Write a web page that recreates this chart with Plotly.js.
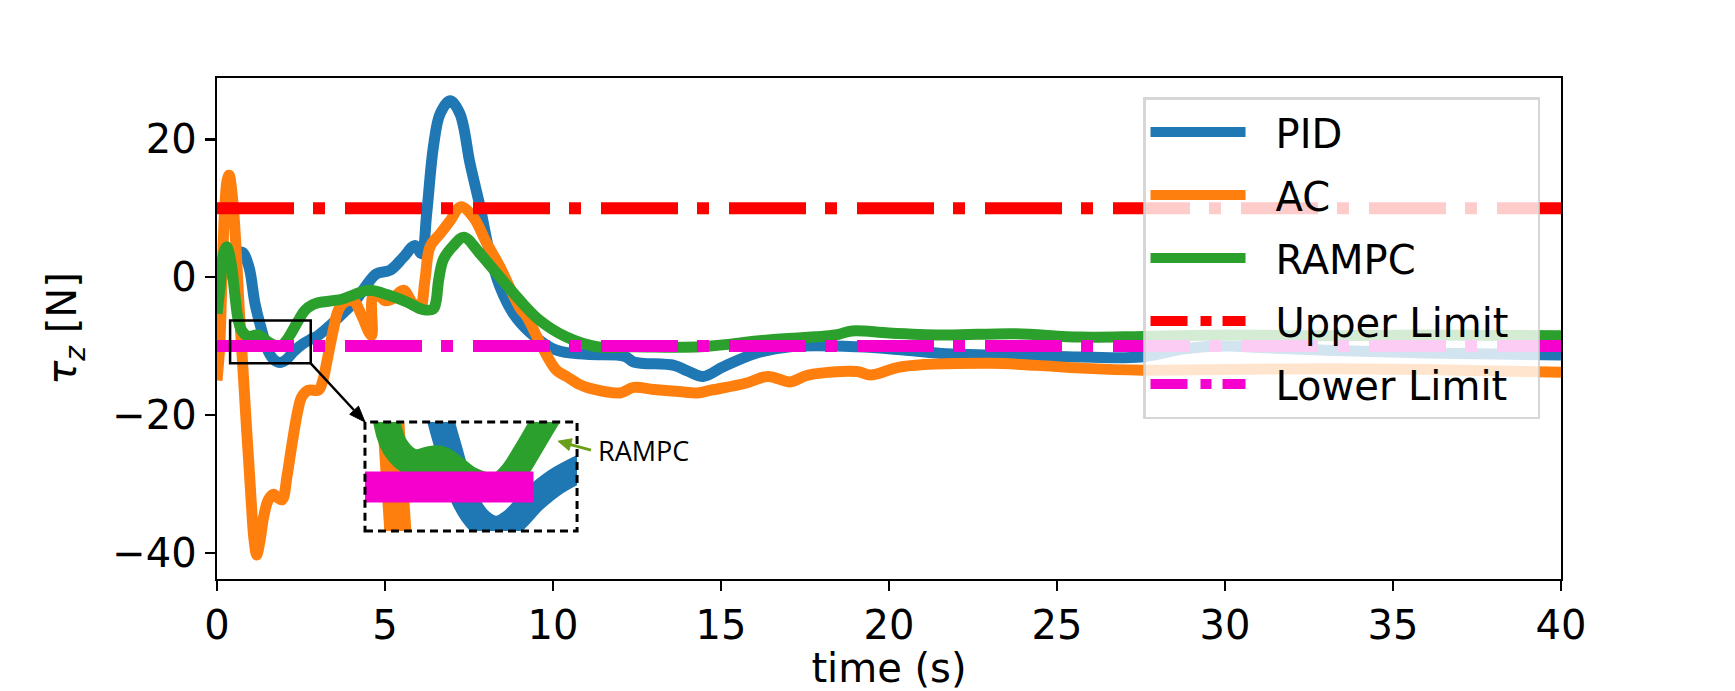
<!DOCTYPE html>
<html>
<head>
<meta charset="utf-8">
<script src="https://cdn.plot.ly/plotly-3.0.1.min.js"></script>
<style>
html,body{margin:0;padding:0;background:#fff;}
#chart{width:1735px;height:691px;}
.js-line{stroke-linejoin:round;}
</style>
</head>
<body>
<div id="chart"></div>
<script>
// ---- data ----
const pidTime = [0,0.3,0.55,0.75,0.95,1.13,1.33,1.53,1.7,1.875,2.05,2.3,2.55,2.8,3.0,3.3,3.54,3.8,4.14,4.5,4.75,5.15,5.55,5.89,6.09,6.24,6.44,6.64,6.94,7.23,7.53,7.83,8.12,8.42,8.82,9.31,10.1,11.0,12.14,12.4,13.6,14.0,14.47,15.07,16.0,17.06,19.05,20.5,21.7,23.0,25.0,27.5,28.8,30.0,31.0,33.0,36.0,40.0];
const pidVal  = [-2,1.5,3.3,3.6,1.5,-3.8,-7.7,-10.8,-12.0,-12.4,-12.0,-10.7,-9.7,-9.0,-8.5,-7.3,-6.2,-5.0,-3.3,-0.8,0.5,1.0,2.9,4.6,3.4,9.2,18.9,23.7,25.6,23.7,16.5,10.2,3.4,-1.4,-5.3,-8.0,-10.6,-11.2,-11.5,-12.3,-12.8,-13.6,-14.4,-13.0,-11.1,-10.1,-10.1,-10.6,-11.1,-11.3,-11.5,-11.6,-10.4,-10.0,-10.2,-10.6,-11.0,-11.3];

const acTime = [0,0.08,0.15,0.22,0.3,0.36,0.45,0.52,0.59,0.66,0.73,0.8,0.88,0.96,1.03,1.1,1.18,1.27,1.4,1.53,1.68,1.8,1.94,2.08,2.22,2.4,2.52,2.72,3.02,3.15,3.26,3.46,3.61,3.8,3.96,4.1,4.3,4.6,4.64,4.8,5.0,5.2,5.55,5.8,6.04,6.19,6.34,6.64,6.94,7.25,7.63,8.03,8.42,9.02,9.22,9.61,10.1,10.4,10.8,11.08,12.0,12.4,13.0,13.75,14.3,14.7,15.73,16.4,17.06,17.59,19.05,19.45,20.38,23.0,24.4,25.7,27.56,30,33,36,38,40];
const acVal  = [-15,-10,0,9,14,14.8,12,8,2,-4.5,-10,-15.5,-22,-28,-33.5,-38,-40.3,-38.5,-34.5,-32.3,-31.5,-32,-32.3,-29,-24.6,-19.5,-17.4,-16.4,-16.4,-15,-12.5,-7.7,-4.8,-3.6,-3.4,-3.6,-5.5,-8.5,-2.8,-2.6,-3.4,-3.2,-1.9,-3.6,-4.5,-0.4,4.4,6.3,8.2,10.2,8.7,4.9,1.5,-4.5,-5.7,-9.5,-13.5,-14.4,-15.6,-16.1,-16.8,-16.0,-16.3,-16.6,-16.8,-16.4,-15.4,-14.4,-15.2,-14.2,-13.7,-14.2,-13.0,-12.5,-12.8,-13.2,-13.5,-13.4,-13.3,-13.4,-13.6,-13.8];

const rampcTime = [0,0.1,0.2,0.29,0.42,0.52,0.62,0.73,0.93,1.23,1.58,1.875,2.05,2.22,2.42,2.62,2.85,3.02,3.71,4.1,4.55,5.1,5.65,6.14,6.44,6.52,6.6,6.74,7.04,7.35,7.83,8.42,9.02,9.61,10.4,11.3,12.4,14.4,16.4,18.4,18.9,20.0,21.7,23.7,25.7,27.56,30,33,36,40];
const rampcVal  = [-5.3,-1,3.5,4.4,2.0,-2.0,-5.9,-7.7,-8.6,-8.4,-9.6,-10.0,-9.3,-8.0,-6.3,-4.8,-4.0,-3.7,-3.2,-2.5,-1.9,-2.6,-3.6,-4.7,-4.6,-3.5,-0.3,2.6,4.6,5.8,3.4,0,-3.4,-6.3,-8.7,-10.1,-10.1,-10.1,-9.1,-8.4,-7.8,-8.1,-8.4,-8.2,-8.7,-8.6,-8.4,-8.5,-8.4,-8.5];

const limitTime = [0, 40];
const upperLimit = [10, 10];
const lowerLimit = [-10, -10];

const seriesNames = ['PID', 'AC', 'RAMPC', 'Upper Limit', 'Lower Limit'];
const xTicks = [0, 5, 10, 15, 20, 25, 30, 35, 40];
const yTicks = [-40, -20, 0, 20];
// zoomed region shown in the inset
const zoomX = [0.39, 2.79];
const zoomY = [-12.5, -6.3];

// ---- styling / geometry ----
const FONT = 'DejaVu Sans';
const W = 1735, H = 691;
const M = {l: 217, r: 174, t: 78, b: 112};
const X_RANGE = [0, 40], Y_RANGE = [-43.8, 28.9];
const colors = ['#1f77b4', '#ff7f0e', '#2ca02c', '#ff0000', '#f500cc'];
const xs = [pidTime, acTime, rampcTime, limitTime, limitTime];
const ys = [pidVal, acVal, rampcVal, upperLimit, lowerLimit];

const traces = [];
for (let i = 0; i < 5; i++) {
  const isLimit = i >= 3;
  traces.push({
    type: 'scatter', mode: 'lines', name: seriesNames[i],
    x: xs[i], y: ys[i], xaxis: 'x', yaxis: 'y',
    legendgroup: 'g' + i,
    line: {color: colors[i], width: isLimit ? 12 : 11,
           dash: isLimit ? '77px,19px,12px,20px' : 'solid',
           shape: isLimit ? 'linear' : 'spline', smoothing: 1.0},
    hoverinfo: 'skip'
  });
}
for (let i = 0; i < 5; i++) {
  const isLimit = i >= 3;
  traces.push({
    type: 'scatter', mode: 'lines', name: seriesNames[i],
    x: xs[i], y: ys[i], xaxis: 'x2', yaxis: 'y2',
    legendgroup: 'g' + i, showlegend: false,
    line: {color: colors[i], width: isLimit ? 31 : 27,
           dash: isLimit ? '203px,50px,32px,53px' : 'solid',
           shape: isLimit ? 'linear' : 'spline', smoothing: 1.0},
    hoverinfo: 'skip'
  });
}

const insetDomX = [0.1101, 0.2679];
const insetDomY = [0.0958, 0.3134];

// pixel <-> data helpers for the main axes (used to build arrow heads)
const plotW = W - M.l - M.r, plotH = H - M.t - M.b;
const kx = plotW / (X_RANGE[1] - X_RANGE[0]);
const ky = plotH / (Y_RANGE[1] - Y_RANGE[0]);
function arrow(x0, y0, x1, y1, color, width, len, half) {
  const dx = (x1 - x0) * kx, dy = -(y1 - y0) * ky;
  const n = Math.hypot(dx, dy), ux = dx / n, uy = dy / n;
  const bx = -ux * len, by = -uy * len;
  const px = -uy * half, py = ux * half;
  const toX = p => p / kx, toY = p => -p / ky;
  const baseX = x1 + toX(bx), baseY = y1 + toY(by);
  const path = 'M' + x1 + ',' + y1 +
    ' L' + (baseX + toX(px)) + ',' + (baseY + toY(py)) +
    ' L' + (baseX - toX(px)) + ',' + (baseY - toY(py)) + ' Z';
  return [
    {type: 'line', xref: 'x', yref: 'y', x0: x0, y0: y0, x1: baseX, y1: baseY,
     line: {color: color, width: width}, layer: 'above'},
    {type: 'path', xref: 'x', yref: 'y', path: path, fillcolor: color,
     line: {color: color, width: 1}, layer: 'above'}
  ];
}
const insetCornerX = X_RANGE[0] + insetDomX[0] * (X_RANGE[1] - X_RANGE[0]);
const insetCornerY = Y_RANGE[0] + insetDomY[1] * (Y_RANGE[1] - Y_RANGE[0]);

const shapes = [
  {type: 'rect', xref: 'x', yref: 'y', x0: zoomX[0], x1: zoomX[1], y0: zoomY[0], y1: zoomY[1],
   line: {color: '#000', width: 2.5}, fillcolor: 'rgba(0,0,0,0)', layer: 'above'},
  {type: 'rect', xref: 'paper', yref: 'paper', x0: insetDomX[0], x1: insetDomX[1], y0: insetDomY[0], y1: insetDomY[1],
   line: {color: '#000', width: 3, dash: '8px,5px'}, fillcolor: 'rgba(0,0,0,0)', layer: 'above'}
].concat(
  arrow(zoomX[1], zoomY[0], insetCornerX, insetCornerY, '#000', 2.5, 16, 6),
  arrow(11.13, -25.1, 10.15, -23.8, '#6a9f1a', 3, 13, 6)
);

const layout = {
  width: W, height: H,
  margin: {l: M.l, r: M.r, t: M.t, b: M.b, pad: 0},
  paper_bgcolor: '#ffffff', plot_bgcolor: '#ffffff',
  font: {family: FONT, size: 40, color: '#000000'},
  showlegend: true,
  legend: {
    x: 0.689, y: 0.962, xanchor: 'left', yanchor: 'top',
    bgcolor: 'rgba(255,255,255,0.8)', bordercolor: 'rgba(204,204,204,0.8)', borderwidth: 2.5,
    font: {family: FONT, size: 40, color: '#000000'},
    itemwidth: 120, tracegroupgap: 8, traceorder: 'grouped'
  },
  xaxis: {
    domain: [0, 1], range: X_RANGE, tickvals: xTicks, ticktext: xTicks.map(String),
    ticks: 'outside', ticklen: 10, tickwidth: 2.4, tickcolor: '#000',
    showline: true, linewidth: 2.4, linecolor: '#000', mirror: true,
    showgrid: false, zeroline: false, automargin: false,
    tickfont: {family: FONT, size: 40},
    title: {text: 'time (s)', standoff: 10, font: {family: FONT, size: 40}}
  },
  yaxis: {
    domain: [0, 1], range: Y_RANGE, tickvals: yTicks,
    ticks: 'outside', ticklen: 10, tickwidth: 2.4, tickcolor: '#000',
    showline: true, linewidth: 2.4, linecolor: '#000', mirror: true,
    showgrid: false, zeroline: false, automargin: false,
    tickfont: {family: FONT, size: 40},
    title: {text: '<i>τ</i><sub><i>z</i></sub> [N]', standoff: 23, font: {family: FONT, size: 40}}
  },
  xaxis2: {
    domain: insetDomX, anchor: 'y2', range: zoomX,
    showticklabels: false, ticks: '', showline: false, showgrid: false, zeroline: false
  },
  yaxis2: {
    domain: insetDomY, anchor: 'x2', range: zoomY,
    showticklabels: false, ticks: '', showline: false, showgrid: false, zeroline: false
  },
  shapes: shapes,
  annotations: [
    {xref: 'x', yref: 'y', x: 11.28, y: -25.1, xanchor: 'left', yanchor: 'middle',
     text: 'RAMPC', showarrow: false, font: {family: 'Open Sans', size: 27, color: '#000'}}
  ]
};

Plotly.newPlot('chart', traces, layout, {staticPlot: true, displayModeBar: false}).then(function (gd) {
  // lengthen legend handles and widen the frame like the reference
  const legendDash = [null, null, null, '37px,13px,11px,11px', '37px,13px,11px,11px'];
  gd.querySelectorAll('.legend .traces').forEach(function (g, i) {
    const p = g.querySelector('.legendlines path');
    if (p) {
      p.setAttribute('d', 'M5,0h95');
      if (legendDash[i]) p.style.strokeDasharray = legendDash[i];
    }
  });
  const bg = gd.querySelector('.legend rect.bg');
  if (bg) bg.setAttribute('width', parseFloat(bg.getAttribute('width')) + 24);
  // drop empty / zero-size placeholder text nodes (untitled inset axes, main title)
  gd.querySelectorAll('.g-x2title, .g-y2title, .g-gtitle').forEach(function (g) { g.remove(); });
  document.querySelectorAll('text').forEach(function (t) {
    let bb = null;
    try { bb = t.getBBox(); } catch (e) { bb = null; }
    if (!t.textContent.trim() || (bb && (bb.width === 0 || bb.height === 0))) t.remove();
  });
});
</script>
</body>
</html>
